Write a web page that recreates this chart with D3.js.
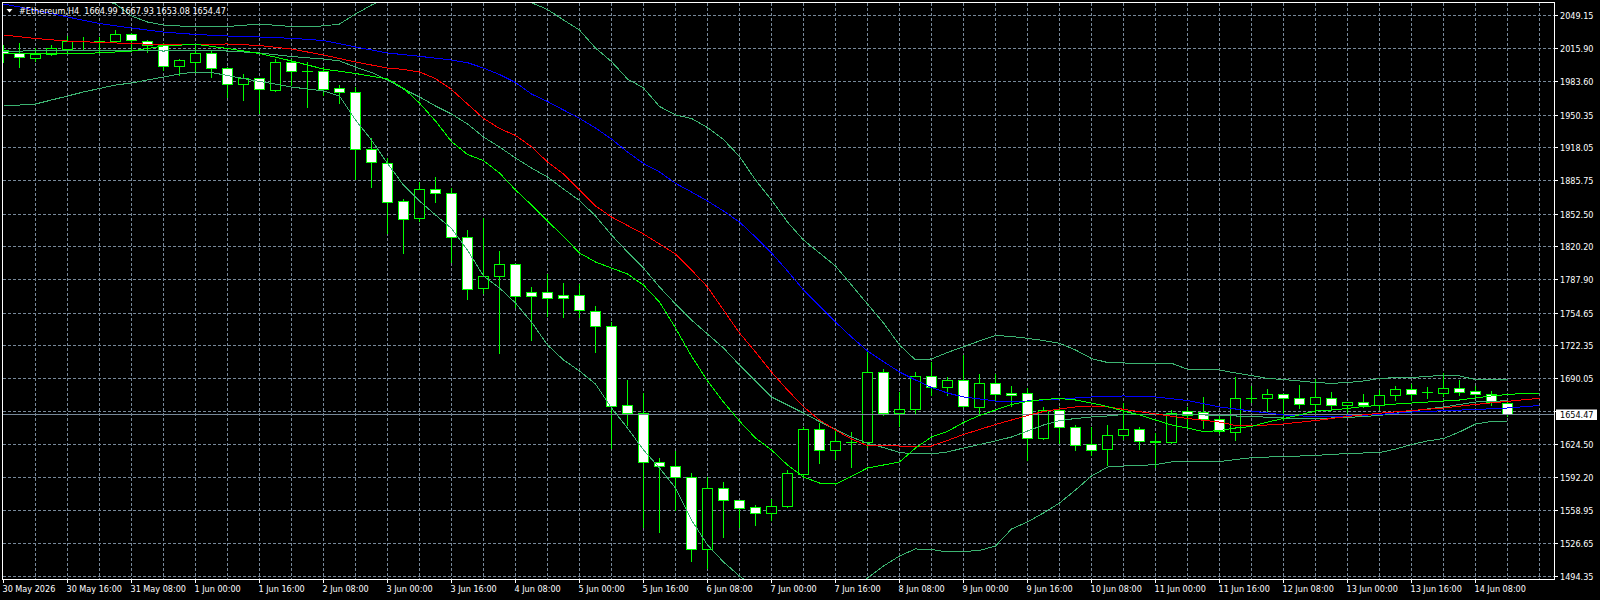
<!DOCTYPE html>
<html>
<head>
<meta charset="utf-8">
<script src="https://cdn.jsdelivr.net/npm/d3@7/dist/d3.min.js"></script>
<style>
html, body { margin: 0; padding: 0; background: #000; }
svg { display: block; }
text { font-family: "DejaVu Sans Condensed", "DejaVu Sans", sans-serif; font-stretch: condensed; font-size: 9px; fill: #fff; }
</style>
</head>
<body>
<div id="chart"></div>
<script>
// ---- data (H4 bars, 30 May -> 14 Jun) ----
var symbolTitle = "#Ethereum,H4  1664.99 1667.93 1653.08 1654.47";
var bidPrice = 1654.47;

var opens = [2014.8,2011.6,2006.2,2010.6,2015.5,2023.2,2023.0,2023.0,2029.7,2023.0,
  2018.8,1998.3,2002.3,2011.6,1996.7,1980.9,1986.8,1974.6,2002.7,1993.6,
  1993.4,1976.3,1973.0,1916.6,1902.8,1865.2,1848.0,1877.1,1873.1,1829.6,
  1778.8,1791.0,1802.9,1775.2,1775.2,1772.3,1772.3,1756.4,1741.6,1662.8,
  1655.5,1607.1,1603.1,1592.2,1521.0,1581.4,1569.5,1562.6,1556.6,1563.2,
  1595.2,1639.7,1618.6,1627.1,1626.7,1696.1,1655.5,1659.5,1691.7,1681.3,
  1688.2,1661.6,1685.2,1675.3,1675.3,1630.8,1658.8,1641.7,1625.0,1620.0,
  1633.8,1639.7,1627.4,1626.9,1657.2,1656.2,1649.6,1636.8,1670.6,1670.0,
  1674.3,1670.4,1664.4,1670.4,1663.1,1666.4,1663.1,1673.0,1678.6,1676.1,
  1675.3,1680.3,1677.6,1674.3,1664.99];
var highs = [2019.8,2021.3,2016.5,2019.8,2028.7,2027.2,2027.4,2034.6,2031.6,2025.2,
  2021.5,2005.6,2018.8,2014.8,1998.3,1991.1,1987.1,2005.6,2005.6,2003.0,
  1998.0,1980.2,1978.7,1927.5,1908.0,1867.2,1884.6,1888.9,1878.1,1836.8,
  1848.4,1816.1,1803.2,1780.2,1793.0,1784.1,1783.4,1761.7,1746.1,1688.5,
  1675.9,1611.0,1617.8,1596.2,1592.8,1587.6,1569.8,1564.9,1570.5,1599.5,
  1641.7,1645.7,1638.4,1637.1,1718.1,1699.4,1676.9,1696.4,1705.8,1691.1,
  1713.2,1694.5,1694.5,1682.8,1680.3,1661.6,1661.6,1643.7,1641.7,1643.7,
  1665.6,1641.7,1636.1,1658.8,1661.6,1671.4,1654.9,1691.1,1682.6,1679.3,
  1674.6,1683.5,1689.1,1676.9,1666.4,1674.6,1678.6,1682.8,1684.2,1681.3,
  1695.1,1688.5,1682.6,1677.6,1667.93];
var lows = [2003.3,1998.3,2004.3,2009.9,2011.6,2014.8,2011.9,2022.3,2014.8,2013.2,
  1995.1,1990.1,1993.4,1988.4,1968.6,1965.4,1952.8,1974.3,1980.2,1958.2,
  1970.3,1962.1,1887.3,1879.7,1834.1,1814.4,1846.0,1864.8,1805.5,1768.3,
  1774.8,1715.5,1761.1,1728.0,1751.8,1751.1,1750.5,1716.5,1621.0,1644.0,
  1543.4,1538.5,1559.9,1509.8,1502.3,1533.5,1543.4,1545.1,1549.7,1562.9,
  1592.8,1606.1,1610.1,1602.7,1622.5,1653.9,1643.0,1655.3,1674.1,1673.6,
  1661.6,1655.5,1668.7,1663.1,1609.4,1630.1,1626.5,1619.3,1614.3,1604.4,
  1630.1,1620.5,1602.4,1626.2,1643.0,1640.7,1635.8,1629.1,1667.0,1657.3,
  1648.9,1661.1,1657.3,1661.1,1657.3,1661.6,1659.5,1668.7,1668.7,1670.4,
  1672.6,1673.6,1671.4,1663.8,1653.08];
var closes = [2011.6,2007.6,2010.6,2016.5,2023.0,2022.8,2022.8,2030.4,2024.7,2018.8,
  1998.3,2004.0,2011.6,1996.7,1980.9,1986.8,1975.3,2002.7,1993.4,1993.2,
  1975.3,1972.8,1916.6,1903.4,1863.8,1847.4,1877.1,1873.1,1829.6,1778.2,
  1791.0,1802.9,1770.9,1770.9,1769.3,1769.3,1757.4,1741.6,1662.1,1655.5,
  1607.1,1602.7,1592.2,1521.0,1581.4,1569.1,1561.4,1556.6,1563.6,1596.2,
  1639.7,1618.6,1627.5,1626.7,1696.1,1655.5,1659.5,1691.7,1681.3,1688.2,
  1662.6,1685.2,1674.6,1672.9,1630.8,1658.8,1641.7,1624.0,1619.0,1633.8,
  1639.7,1627.9,1627.0,1654.9,1653.2,1649.6,1637.1,1670.4,1670.2,1674.6,
  1670.0,1664.4,1671.4,1663.1,1666.4,1663.1,1673.4,1679.3,1674.3,1675.7,
  1680.3,1676.3,1674.3,1666.0,1654.47];

// time axis labels and the bar index each one sits on
var timeLabels = ["30 May 2026","30 May 16:00","31 May 08:00","1 Jun 00:00","1 Jun 16:00",
  "2 Jun 08:00","3 Jun 00:00","3 Jun 16:00","4 Jun 08:00","5 Jun 00:00","5 Jun 16:00",
  "6 Jun 08:00","7 Jun 00:00","7 Jun 16:00","8 Jun 08:00","9 Jun 00:00","9 Jun 16:00",
  "10 Jun 08:00","11 Jun 00:00","11 Jun 16:00","12 Jun 08:00","13 Jun 00:00","13 Jun 16:00",
  "14 Jun 08:00"];
var timeLabelBars = d3.range(0, 93, 4);

// price grid (the 1657.40 one sits under the bid label)
var priceTicks = [2049.15,2015.90,1983.60,1950.35,1918.05,1885.75,1852.50,1820.20,1787.90,
  1754.65,1722.35,1690.05,1657.40,1624.50,1592.20,1558.95,1526.65,1494.35];

// indicator lines as [bar, price]
var jawLine = [[0,2060.3],[1,2057.4],[2,2053.9],[3,2050.9],[4,2047.5],[6,2041.0],[8,2036.6],[10,2032.6],
  [12,2030.2],[14,2028.7],[16,2027.7],[18,2026.4],[20,2024.2],[22,2017.8],[24,2011.9],[26,2008.6],
  [28,2004.9],[29,2002.3],[30,1997.0],[31,1990.6],[32,1982.7],[33,1971.3],[34,1963.9],[35,1955.5],
  [36,1947.3],[37,1937.7],[38,1926.8],[39,1914.0],[40,1902.6],[41,1894.2],[42,1883.0],[43,1874.4],
  [44,1865.5],[45,1855.6],[46,1844.7],[47,1829.9],[48,1814.1],[49,1796.3],[50,1777.5],[51,1761.7],
  [52,1745.8],[53,1731.0],[54,1717.2],[55,1706.6],[56,1696.4],[57,1688.5],[58,1681.1],[59,1675.6],
  [60,1671.7],[62,1667.7],[64,1667.7],[66,1669.7],[68,1671.7],[70,1672.7],[72,1671.7],[74,1668.2],
  [76,1661.8],[78,1657.8],[80,1653.9],[82,1652.2],[84,1652.9],[86,1654.4],[88,1656.8],[90,1658.1],
  [92,1659.3],[94,1660.8],[96,1663.3]];
var teethLine = [[0,2029.7],[2,2026.2],[4,2023.7],[6,2022.3],[8,2021.3],[10,2019.8],[12,2020.3],
  [14,2020.8],[16,2019.3],[18,2015.8],[20,2009.9],[21,2006.4],[22,2003.0],[23,2000.0],[24,1997.0],
  [25,1995.6],[26,1993.1],[27,1986.6],[28,1975.8],[29,1961.4],[30,1947.3],[31,1937.2],[32,1930.3],
  [33,1919.2],[34,1904.1],[35,1892.2],[36,1876.4],[37,1860.6],[38,1849.7],[39,1841.3],[40,1832.9],
  [41,1823.0],[42,1813.1],[43,1797.3],[44,1780.5],[45,1757.7],[46,1735.0],[47,1716.2],[48,1696.4],
  [49,1678.6],[50,1662.1],[51,1648.9],[52,1639.0],[53,1630.1],[54,1623.5],[56,1623.2],[58,1623.2],
  [59,1628.7],[60,1634.6],[61,1639.5],[62,1644.5],[63,1648.9],[64,1653.4],[65,1657.3],[66,1659.8],
  [67,1661.8],[68,1662.8],[69,1661.8],[70,1659.5],[72,1654.9],[74,1650.4],[76,1646.9],[77,1643.5],
  [78,1643.0],[80,1645.0],[82,1648.4],[84,1652.4],[86,1655.6],[88,1658.3],[90,1660.8],[92,1664.3],
  [94,1667.4],[96,1670.4]];
var lipsLine = [[0,2011.6],[2,2011.6],[4,2011.6],[6,2011.9],[8,2013.8],[10,2018.8],[12,2020.5],
  [14,2016.3],[16,2011.4],[18,2004.0],[20,1996.0],[22,1991.6],[24,1986.2],[25,1977.0],[26,1962.4],
  [27,1944.6],[28,1924.3],[29,1911.5],[30,1905.4],[31,1893.2],[32,1876.4],[33,1861.6],[34,1845.7],
  [35,1830.4],[36,1814.1],[37,1805.2],[38,1799.2],[39,1793.3],[40,1782.4],[41,1765.6],[42,1739.9],
  [43,1712.2],[44,1687.5],[45,1666.7],[46,1647.9],[47,1631.1],[48,1619.3],[49,1604.4],[50,1592.6],
  [51,1586.6],[52,1585.6],[53,1593.1],[54,1601.5],[55,1604.4],[56,1607.4],[57,1621.2],[58,1632.1],
  [59,1637.6],[60,1646.5],[61,1653.4],[62,1658.8],[63,1664.3],[64,1667.2],[65,1669.2],[66,1670.2],
  [67,1668.7],[68,1665.7],[69,1662.3],[70,1657.8],[71,1653.9],[72,1648.9],[73,1644.0],[74,1641.0],
  [75,1637.4],[76,1638.5],[77,1641.0],[78,1642.5],[79,1646.9],[80,1650.4],[81,1653.9],[82,1657.8],
  [83,1658.8],[84,1660.3],[85,1662.3],[86,1663.3],[87,1664.7],[88,1665.7],[89,1666.7],[90,1667.7],
  [91,1668.7],[92,1670.7],[93,1672.7],[94,1674.1],[95,1675.3],[96,1675.6]];
var bandUpper = [[0,2066.3],[2,2068.2],[4,2068.2],[6,2065.3],[7,2060.3],[8,2048.5],[9,2042.5],
  [10,2039.6],[12,2037.6],[14,2038.1],[16,2040.5],[18,2038.1],[20,2038.6],[21,2040.5],[22,2050.4],
  [23,2059.3],[24,2066.3],[25,2072.2],[26,2076.1],[27,2078.1],[28,2078.1],[29,2076.1],[30,2073.2],
  [31,2070.2],[32,2066.3],[33,2061.6],[34,2054.9],[35,2044.5],[36,2034.6],[37,2016.8],[38,2003.3],
  [39,1986.2],[40,1977.3],[41,1959.0],[42,1950.6],[43,1947.1],[44,1938.2],[45,1926.3],[46,1909.5],
  [47,1886.3],[48,1866.5],[49,1844.7],[50,1826.9],[51,1814.1],[52,1801.2],[53,1782.4],[54,1763.6],
  [55,1744.9],[56,1723.1],[57,1708.3],[58,1709.3],[59,1715.7],[60,1721.4],[61,1727.1],[62,1732.5],
  [63,1731.5],[64,1729.7],[65,1727.5],[66,1724.8],[67,1718.2],[68,1709.7],[69,1705.8],[70,1705.3],
  [72,1705.0],[73,1705.0],[74,1699.1],[75,1699.1],[76,1698.4],[77,1695.4],[78,1692.9],[79,1690.0],
  [80,1689.0],[81,1687.5],[82,1686.0],[83,1685.2],[84,1686.0],[85,1687.5],[86,1690.0],[87,1690.8],
  [88,1691.0],[89,1691.9],[90,1693.4],[91,1692.6],[92,1688.8],[93,1688.5],[94,1688.5]];
var bandMiddle = [[0,2013.4],[4,2014.8],[8,2014.8],[10,2013.8],[12,2014.8],[14,2013.8],[16,2011.9],
  [18,2008.4],[20,2005.9],[21,2004.0],[22,1998.0],[23,1992.6],[24,1985.2],[25,1976.3],[26,1968.4],
  [27,1959.5],[28,1951.5],[29,1941.7],[30,1928.8],[31,1918.9],[32,1908.0],[33,1898.1],[34,1889.2],
  [35,1877.4],[36,1866.0],[37,1850.7],[38,1831.9],[39,1815.1],[40,1799.2],[41,1780.5],[42,1763.6],
  [43,1747.8],[44,1734.0],[45,1720.1],[46,1703.3],[47,1687.5],[48,1671.7],[49,1663.8],[50,1655.8],
  [51,1647.4],[52,1639.5],[53,1632.1],[54,1625.9],[55,1621.7],[56,1616.8],[57,1615.3],[58,1615.3],
  [59,1617.3],[60,1621.2],[61,1624.7],[62,1628.2],[63,1632.1],[64,1638.0],[65,1644.0],[66,1648.4],
  [67,1650.4],[68,1651.9],[69,1652.9],[70,1654.4],[72,1654.9],[74,1654.4],[76,1653.4],[78,1652.4],
  [80,1650.9],[82,1650.4],[84,1651.4],[86,1653.4],[88,1657.8],[90,1661.8],[92,1666.7],[94,1668.0]];
var bandLower = [[0,1960.4],[1,1960.4],[2,1961.4],[3,1965.4],[4,1969.3],[5,1973.3],[6,1976.8],
  [7,1980.2],[8,1982.2],[9,1985.2],[10,1988.1],[11,1991.1],[12,1993.1],[13,1992.6],[14,1989.6],
  [15,1986.6],[16,1983.7],[17,1981.2],[18,1978.2],[19,1976.3],[20,1974.3],[21,1969.3],[22,1945.6],
  [23,1925.8],[24,1902.6],[25,1881.3],[26,1865.5],[27,1851.7],[28,1838.3],[29,1817.0],[30,1791.3],
  [31,1779.5],[32,1764.6],[33,1745.8],[34,1723.1],[35,1708.3],[36,1697.4],[37,1684.5],[38,1660.8],
  [39,1641.0],[40,1619.3],[41,1601.5],[42,1581.7],[43,1550.0],[44,1525.3],[45,1508.5],[46,1494.6],
  [47,1482.8],[48,1472.9],[49,1466.0],[50,1462.0],[51,1464.0],[52,1469.9],[53,1479.8],[54,1492.7],
  [55,1504.5],[56,1514.4],[57,1521.4],[58,1520.9],[59,1518.4],[60,1518.9],[61,1519.9],[62,1524.3],
  [63,1541.1],[64,1548.1],[65,1557.0],[66,1566.8],[67,1579.7],[68,1593.5],[69,1602.4],[70,1603.4],
  [71,1603.9],[72,1604.9],[73,1607.4],[74,1607.7],[76,1607.7],[77,1609.9],[78,1611.6],[79,1612.3],
  [80,1612.6],[81,1613.3],[82,1614.0],[83,1614.8],[84,1615.8],[85,1616.3],[86,1616.6],[87,1620.2],
  [88,1624.7],[89,1628.2],[90,1630.6],[91,1637.1],[92,1645.0],[93,1647.4],[94,1647.6]];

// ---- drawing ----
var W = 1600, H = 600;
var frame = {left: 2.5, right: 1554.5, top: 2.5, bottom: 579.5};

var svg = d3.select("#chart").append("svg")
  .attr("width", W).attr("height", H)
  .style("background-color", "#000");

// 16px per bar, last bar sits at 1507
var x = d3.scaleLinear().domain([0, 94]).range([3.5, 1507.5]);
var y = d3.scaleLinear().domain([1494.35, 2049.15]).range([576.3, 15.3]);
var snap = function(v) { return Math.round(v - 0.5) + 0.5; };

svg.append("defs").append("clipPath").attr("id", "plotClip")
  .append("rect").attr("x", 3).attr("y", 3).attr("width", 1551).attr("height", 576);

var gridColor = "#778899";

// horizontal grid
svg.append("g").selectAll("line").data(priceTicks).enter().append("line")
  .attr("x1", frame.left).attr("x2", frame.right)
  .attr("y1", function(d) { return snap(y(d)); })
  .attr("y2", function(d) { return snap(y(d)); })
  .attr("stroke", gridColor).attr("stroke-dasharray", "3,2")
  .attr("shape-rendering", "crispEdges");

// vertical grid every 2 bars
svg.append("g").selectAll("line").data(d3.range(2, 97, 2)).enter().append("line")
  .attr("x1", function(d) { return x(d); }).attr("x2", function(d) { return x(d); })
  .attr("y1", frame.top).attr("y2", frame.bottom)
  .attr("stroke", gridColor).attr("stroke-dasharray", "3,2")
  .attr("shape-rendering", "crispEdges");

var plotG = svg.append("g").attr("clip-path", "url(#plotClip)");

// candles
var bars = d3.range(opens.length).map(function(i) {
  return {i: i, o: opens[i], h: highs[i], l: lows[i], c: closes[i]};
});
var candleG = plotG.append("g").attr("shape-rendering", "crispEdges");
candleG.selectAll("line.wick").data(bars).enter().append("line")
  .attr("class", "wick")
  .attr("x1", function(d) { return x(d.i); }).attr("x2", function(d) { return x(d.i); })
  .attr("y1", function(d) { return Math.round(y(d.h)); })
  .attr("y2", function(d) { return Math.round(y(d.l)) + 1; })
  .attr("stroke", "#00ff00");

bars.forEach(function(d) {
  var top = snap(y(Math.max(d.o, d.c)));
  var bot = snap(y(Math.min(d.o, d.c)));
  if (bot - top < 1) {
    candleG.append("line")
      .attr("x1", x(d.i) - 5.5).attr("x2", x(d.i) + 5.5)
      .attr("y1", top).attr("y2", top)
      .attr("stroke", "#00ff00");
  } else {
    candleG.append("rect")
      .attr("x", x(d.i) - 5).attr("width", 10)
      .attr("y", top).attr("height", bot - top)
      .attr("fill", d.c < d.o ? "#ffffff" : "#000000")
      .attr("stroke", "#00ff00");
  }
});

// bid line
plotG.append("line")
  .attr("x1", frame.left).attr("x2", frame.right)
  .attr("y1", snap(y(bidPrice))).attr("y2", snap(y(bidPrice)))
  .attr("stroke", gridColor)
  .attr("shape-rendering", "crispEdges");

// indicators
var line = d3.line()
  .x(function(d) { return x(d[0]); })
  .y(function(d) { return y(d[1]); });

var series = [
  {data: bandUpper, color: "#3cb371"},
  {data: bandMiddle, color: "#3cb371"},
  {data: bandLower, color: "#3cb371"},
  {data: jawLine, color: "#0000ff"},
  {data: teethLine, color: "#ff0000"},
  {data: lipsLine, color: "#00ff00"}
];
plotG.selectAll("path.ind").data(series).enter().append("path")
  .attr("class", "ind")
  .attr("d", function(s) { return line(s.data); })
  .attr("fill", "none")
  .attr("stroke", function(s) { return s.color; })
  .attr("stroke-width", 1)
  .attr("shape-rendering", "crispEdges");

// frame
svg.append("rect")
  .attr("x", frame.left).attr("y", frame.top)
  .attr("width", frame.right - frame.left).attr("height", frame.bottom - frame.top)
  .attr("fill", "none").attr("stroke", "#ffffff")
  .attr("shape-rendering", "crispEdges");

// price axis
var bidY = snap(y(bidPrice));
var priceAxis = svg.append("g").attr("shape-rendering", "crispEdges");
priceAxis.selectAll("line").data(priceTicks).enter().append("line")
  .attr("x1", frame.right).attr("x2", frame.right + 3)
  .attr("y1", function(d) { return snap(y(d)); })
  .attr("y2", function(d) { return snap(y(d)); })
  .attr("stroke", "#ffffff");
priceAxis.selectAll("text")
  .data(priceTicks.filter(function(d) { return Math.abs(y(d) - bidY) > 8; }))
  .enter().append("text")
  .attr("x", 1560)
  .attr("y", function(d) { return snap(y(d)) + 3.5; })
  .text(function(d) { return d.toFixed(2); });

// bid label
svg.append("rect")
  .attr("x", 1556).attr("y", bidY - 5).attr("width", 41).attr("height", 10.5)
  .attr("fill", "#ffffff");
svg.append("text")
  .attr("x", 1560).attr("y", bidY + 3.5)
  .style("fill", "#000")
  .text(bidPrice.toFixed(2));

// time axis
var timeAxis = svg.append("g");
timeAxis.selectAll("line").data(timeLabelBars).enter().append("line")
  .attr("x1", function(d) { return x(d); }).attr("x2", function(d) { return x(d); })
  .attr("y1", frame.bottom).attr("y2", frame.bottom + 3)
  .attr("stroke", "#ffffff")
  .attr("shape-rendering", "crispEdges");
timeAxis.selectAll("text").data(timeLabels).enter().append("text")
  .attr("x", function(d, i) { return x(timeLabelBars[i]) - 1; })
  .attr("y", 592)
  .text(function(d) { return d; });

// title
svg.append("path")
  .attr("d", "M6.5,9 L12.5,9 L9.5,12.5 Z")
  .attr("fill", "#ffffff");
svg.append("text")
  .attr("x", 19).attr("y", 14)
  .attr("xml:space", "preserve")
  .style("white-space", "pre")
  .text(symbolTitle);
</script>
</body>
</html>
